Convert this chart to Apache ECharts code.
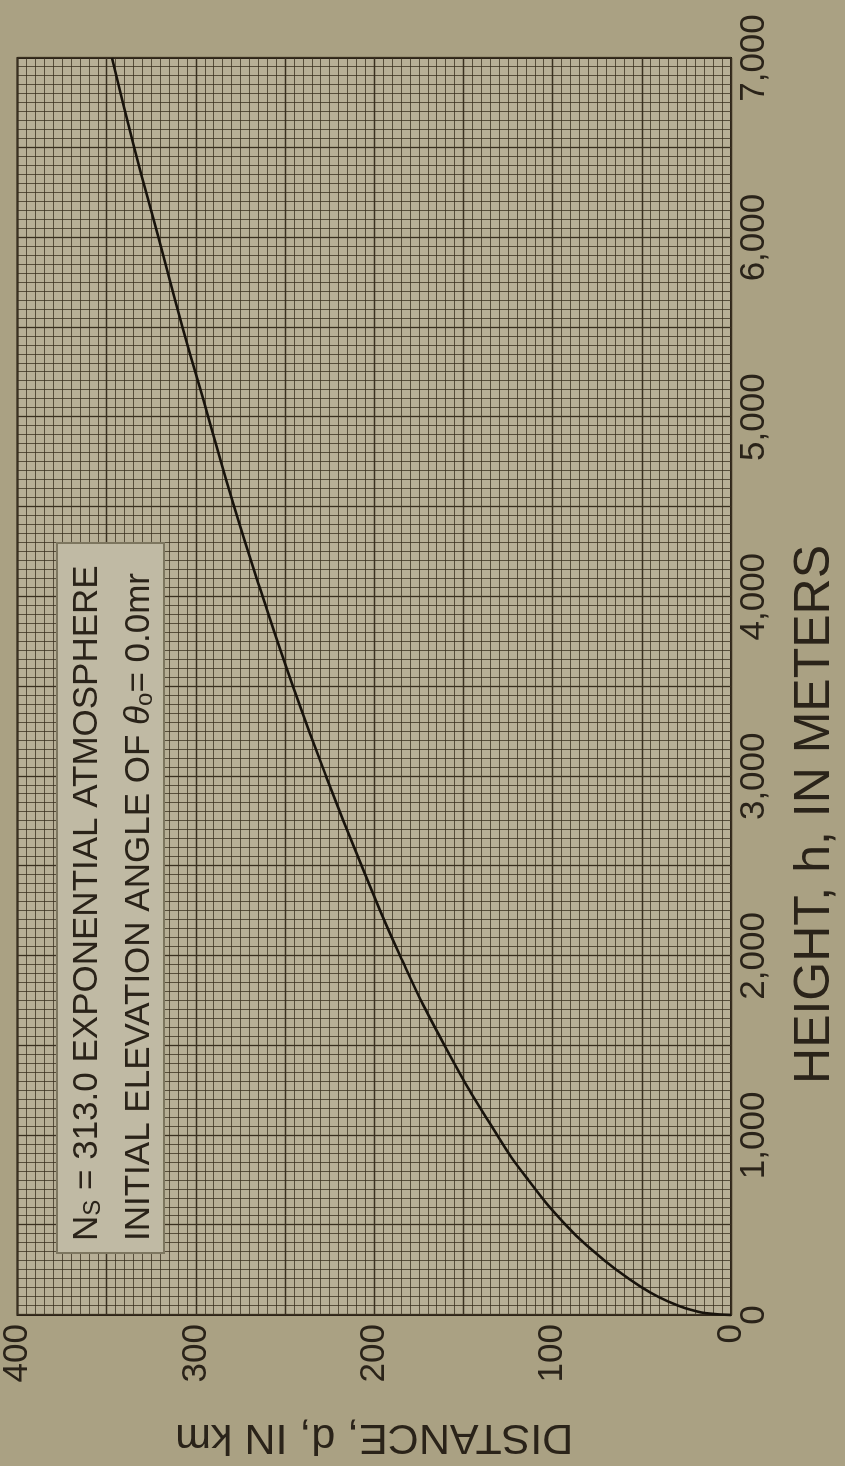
<!DOCTYPE html>
<html>
<head>
<meta charset="utf-8">
<script src="https://cdn.jsdelivr.net/npm/echarts@6/dist/echarts.min.js"></script>
<style>
  html, body {
    margin: 0;
    padding: 0;
    width: 845px;
    height: 1466px;
    overflow: hidden;
    background: #aaa183;
  }
  /* chart is drawn landscape, then turned a quarter turn to the left */
  #chart {
    position: absolute;
    left: 0;
    top: 0;
    width: 1466px;
    height: 845px;
    transform-origin: 0 0;
    transform: translateY(1466px) rotate(-90deg);
  }
</style>
</head>
<body>
<div id="chart"></div>
<script>
  // height h (m) and distance d (km)
  const heights = [0, 10, 25, 50, 100, 160, 250, 350, 500, 750, 1000, 1500, 2000, 2500, 3000, 3500, 4000, 4500, 5000, 5500, 6000, 6500, 7000];
  const distances = [0, 14, 21, 29, 40.5, 51, 64, 76.5, 92.5, 113.5, 131, 160.5, 185.5, 207, 227, 245.5, 262.5, 278.5, 293, 307.5, 321, 334.5, 347];
  const heightTicks = [0, 1000, 2000, 3000, 4000, 5000, 6000, 7000];
  const distanceTicks = [0, 100, 200, 300, 400];

  const font = "'Liberation Sans', Arial, sans-serif";
  const ink = "#2a2319";

  let myChart = echarts.init(document.getElementById("chart"), null, { renderer: "canvas" });
  let option = {
    backgroundColor: "#aaa183",
    animation: false,
    grid: {
      left: 146,
      right: 58,
      top: 17,
      bottom: 109,
      show: true,
      backgroundColor: "#b7af96",
      borderColor: "#2a2217",
      borderWidth: 2,
    },
    xAxis: {
      type: "value",
      min: 0,
      max: 7000,
      interval: 500,
      name: "HEIGHT, h, IN METERS",
      nameLocation: "middle",
      nameGap: 59,
      nameTextStyle: { fontFamily: font, fontSize: 50, color: ink, padding: [0, 256, 0, 0] },
      axisLine: { show: false },
      axisTick: { show: false },
      axisLabel: {
        margin: 6,
        fontFamily: font,
        fontSize: 35,
        color: ink,
        formatter: function (v) {
          return heightTicks.includes(v) ? v.toLocaleString("en-US") : "";
        },
      },
      splitLine: { show: true, lineStyle: { color: "#3a3020", width: 1.3 } },
      minorTick: { show: false, splitNumber: 10 },
      minorSplitLine: { show: true, lineStyle: { color: "rgba(55,45,28,0.75)", width: 1 } },
    },
    yAxis: {
      type: "value",
      min: 0,
      max: 400,
      interval: 50,
      name: "DISTANCE, d, IN km",
      nameLocation: "middle",
      nameRotate: 90,
      nameGap: 100,
      nameTextStyle: { fontFamily: font, fontSize: 43, color: ink },
      axisLine: { show: false },
      axisTick: { show: false },
      axisLabel: {
        margin: 9,
        fontFamily: font,
        fontSize: 35,
        color: ink,
        formatter: function (v) {
          return distanceTicks.includes(v) ? String(v) : "";
        },
      },
      splitLine: { show: true, lineStyle: { color: "#3a3020", width: 1.3 } },
      minorTick: { show: false, splitNumber: 10 },
      minorSplitLine: { show: true, lineStyle: { color: "rgba(55,45,28,0.75)", width: 1 } },
    },
    graphic: [
      {
        type: "rect",
        shape: { x: 213, y: 57, width: 710, height: 107 },
        style: { fill: "#c0baa4", stroke: "#7d765f", lineWidth: 2 },
        z: 10,
      },
      {
        type: "text",
        x: 225,
        y: 85,
        z: 11,
        style: {
          text: "{a|N}{s|S}{a| = 313.0 EXPONENTIAL ATMOSPHERE}",
          verticalAlign: "middle",
          rich: {
            a: { fontFamily: font, fontSize: 35, lineHeight: 40, fill: ink, verticalAlign: "bottom" },
            s: { fontFamily: font, fontSize: 24, lineHeight: 12, fill: ink, verticalAlign: "bottom" },
          },
        },
      },
      {
        type: "text",
        x: 225,
        y: 137,
        z: 11,
        style: {
          text: "{a|INITIAL ELEVATION ANGLE OF }{t|θ}{s|o}{a|= 0.0mr}",
          verticalAlign: "middle",
          rich: {
            a: { fontFamily: font, fontSize: 35, lineHeight: 40, fill: ink, verticalAlign: "bottom" },
            t: { fontFamily: font, fontSize: 35, lineHeight: 40, fill: ink, fontStyle: "italic", verticalAlign: "bottom" },
            s: { fontFamily: font, fontSize: 24, lineHeight: 12, fill: ink, verticalAlign: "bottom" },
          },
        },
      },
    ],
    series: [
      {
        type: "line",
        data: heights.map((h, i) => [h, distances[i]]),
        smooth: true,
        showSymbol: false,
        symbol: "none",
        lineStyle: { color: "#18130c", width: 2.6 },
        z: 5,
      },
    ],
  };
  myChart.setOption(option);
</script>
</body>
</html>
